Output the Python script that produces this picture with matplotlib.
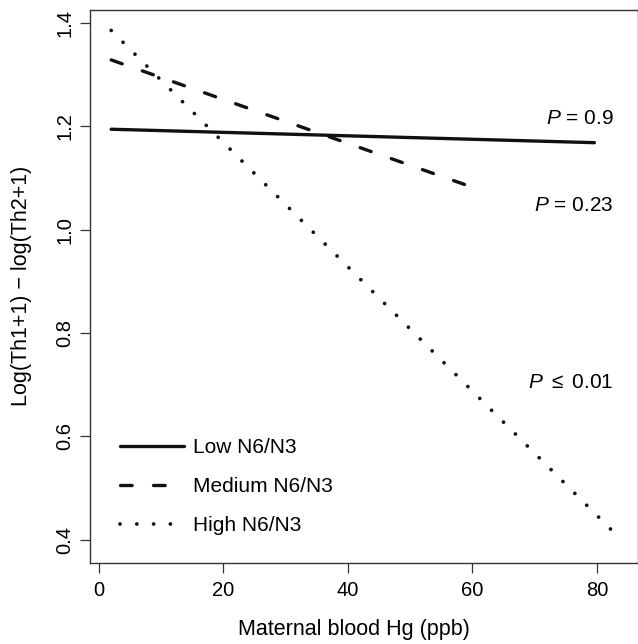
import numpy as np
import matplotlib
matplotlib.use("Agg")
import matplotlib.pyplot as plt

plt.rcParams["font.family"] = ["Liberation Sans", "DejaVu Sans"]
plt.rcParams["mathtext.fontset"] = "custom"
plt.rcParams["mathtext.rm"] = "Liberation Sans"
plt.rcParams["mathtext.it"] = "Liberation Sans:italic"

# fitted lines (start / end points)
groups = ["Low N6/N3", "Medium N6/N3", "High N6/N3"]
hg_start = [2, 2, 2]
hg_end = [79.6, 59.5, 82.2]
diff_start = [1.194, 1.328, 1.385]
diff_end = [1.168, 1.084, 0.421]
p_labels = [r"$P$ = 0.9", r"$P$ = 0.23", r"$P$ $\leq$ 0.01"]
p_y = [1.214, 1.047, 0.705]

lw = 2.4
styles = [
    dict(linestyle="-", solid_capstyle="round"),
    dict(linestyle=(0, (3.5, 6.4)), dash_capstyle="round"),
    # period chosen so a dot falls on both ends of the line
    dict(linestyle=(0, (0.01, 4.47)), dash_capstyle="round", lw=2.7),
]

fig = plt.figure(figsize=(6.38, 6.44), dpi=100)
ax = fig.add_axes([90 / 638, (644 - 562.7) / 644, 548 / 638, (562.7 - 10) / 644])

for i, g in enumerate(groups):
    kw = dict(color="#111111", lw=lw)
    kw.update(styles[i])
    ax.plot([hg_start[i], hg_end[i]], [diff_start[i], diff_end[i]], label=g, **kw)

for lab, y in zip(p_labels, p_y):
    ax.text(82.7, y, lab, ha="right", va="center", fontsize=15)

ax.set_xlim(-1.4, 86.6)
ax.set_ylim(0.356, 1.4245)
ax.set_xticks([0, 20, 40, 60, 80])
ax.set_yticks([0.4, 0.6, 0.8, 1.0, 1.2, 1.4])
ax.set_yticklabels(["0.4", "0.6", "0.8", "1.0", "1.2", "1.4"], rotation=90, va="center")
ax.tick_params(length=7, width=0.9, labelsize=14.5, color="#333333")
ax.tick_params(axis="x", pad=6)
ax.tick_params(axis="y", pad=4)
for s in ax.spines.values():
    s.set_linewidth(1.0)
    s.set_color("#333333")

fig.text(354 / 638, 1 - 630 / 644, "Maternal blood Hg (ppb)", ha="center", va="center", fontsize=15.5)
fig.text(22 / 638, 1 - 286 / 644, "Log(Th1+1) \u2212 log(Th2+1)", ha="center", va="center",
         rotation=90, fontsize=15.5)

ax.legend(loc="lower left", bbox_to_anchor=(0.04, 0.035), frameon=False, fontsize=15,
          handlelength=3.07, handletextpad=0.43, labelspacing=0.95, borderaxespad=0)

fig.savefig("out.png", dpi=100)
